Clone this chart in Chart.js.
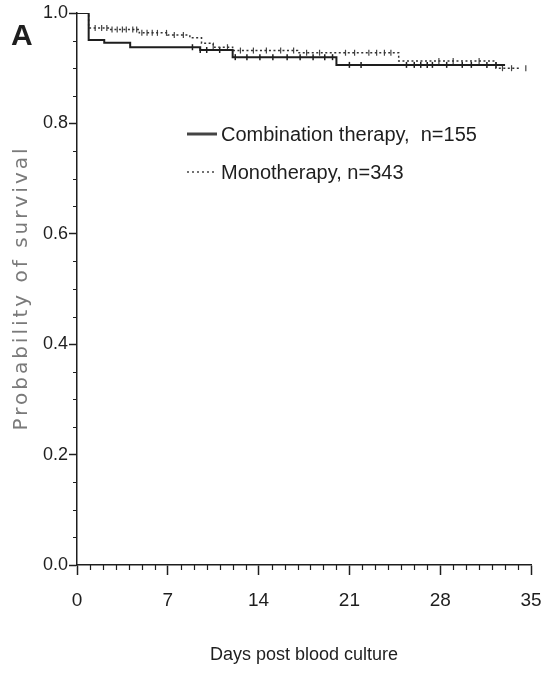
<!DOCTYPE html>
<html lang="en">
<head>
  <meta charset="UTF-8">
  <title>Survival</title>
  <style>
    html, body { margin: 0; padding: 0; background: #fff; }
    #wrap { position: relative; width: 545px; height: 674px; }
  </style>
</head>
<body>
  <div id="wrap">
    <canvas id="myChart" width="545" height="674"></canvas>
  </div>

<script src="https://cdn.jsdelivr.net/npm/chart.js"></script>
<script>
  // Kaplan-Meier steps (days, survival)
  const comboTimes = [0, 0.9, 2.1, 4.1, 9.5, 12, 20, 33];
  const comboSurv = [1.0, 0.951, 0.946, 0.938, 0.933, 0.920, 0.906, 0.906];
  const monoTimes = [0, 0.9, 2.5, 4.8, 7, 8.7, 9.6, 10.5, 12, 17, 24.8, 32.3, 34.2];
  const monoSurv = [1.0, 0.973, 0.970, 0.964, 0.960, 0.955, 0.945, 0.938, 0.932, 0.928, 0.913, 0.900, 0.900];

  // censored observations (days)
  const comboCensor = [8.9, 9.5, 10, 11, 12.2, 13.1, 14.1, 15.1, 16.2, 17.2, 18.2, 19.1, 19.7, 21, 21.9,
    25.4, 26, 26.5, 27, 27.4, 28.5, 29.7, 30.4, 31.6, 32.3];
  const monoCensor = [1.4, 1.9, 2.3, 2.7, 3.1, 3.5, 3.8, 4.3, 4.6, 5.0, 5.4, 5.8, 6.2, 6.9, 7.5, 8.2,
    10.5, 11.6, 12.6, 13.6, 14.6, 15.7, 16.7, 17.7, 18.7, 20.7, 21.4, 22.5, 23.1, 23.7, 24.2,
    27.9, 29, 31, 32.8, 33.5, 34.6];

  const xTicks = [0, 7, 14, 21, 28, 35];
  const yTicks = [0, 0.2, 0.4, 0.6, 0.8, 1.0];
  const legendLabels = ['Combination therapy,  n=155', 'Monotherapy, n=343'];
  const yTitle = 'Probability of survival';

  const FONT = '"Liberation Sans", Arial, sans-serif';
  const INK = '#1e1e1e';

  function survAt(times, surv, t) {
    let s = surv[0];
    for (let i = 0; i < times.length; i++) {
      if (times[i] <= t) s = surv[i];
    }
    return s;
  }
  function toPoints(times, surv) {
    return times.map((t, i) => ({ x: t, y: surv[i] }));
  }
  function censorPoints(list, times, surv) {
    return list.map(t => ({ x: t, y: survAt(times, surv, t) }));
  }

  // minor ticks, legend, y title and panel letter
  const extras = {
    id: 'extras',
    afterDraw(chart) {
      const c = chart.ctx;
      const xs = chart.scales.x;
      const ys = chart.scales.y;
      const area = chart.chartArea;
      c.save();
      c.strokeStyle = INK;
      c.lineWidth = 1.2;
      c.beginPath();
      for (let d = 0; d <= 35; d++) {
        if (d % 7 === 0) continue;
        const px = Math.round(xs.getPixelForValue(d)) + 0.5;
        c.moveTo(px, area.bottom);
        c.lineTo(px, area.bottom + 5);
      }
      for (let k = 0; k <= 20; k++) {
        if (k % 4 === 0) continue;
        const py = Math.round(ys.getPixelForValue(k * 0.05)) + 0.5;
        c.moveTo(area.left - 4, py);
        c.lineTo(area.left, py);
      }
      c.stroke();

      // legend
      c.lineWidth = 3;
      c.strokeStyle = '#444';
      c.beginPath();
      c.moveTo(187, 134);
      c.lineTo(217, 134);
      c.stroke();
      c.lineWidth = 1.5;
      c.setLineDash([2, 3]);
      c.beginPath();
      c.moveTo(187, 172);
      c.lineTo(217, 172);
      c.stroke();
      c.setLineDash([]);
      c.fillStyle = INK;
      c.font = '20px ' + FONT;
      c.textBaseline = 'middle';
      c.fillText(legendLabels[0], 221, 135);
      c.fillText(legendLabels[1], 221, 173);

      // y axis title, spaced out like the scan
      c.save();
      c.translate(22, 288);
      c.rotate(-Math.PI / 2);
      c.font = '20px "DejaVu Sans", sans-serif';
      c.fillStyle = '#7a7a7a';
      c.textAlign = 'center';
      if ('letterSpacing' in c) c.letterSpacing = '3px';
      c.fillText(yTitle, 0, 0);
      c.restore();

      c.font = 'bold 30px ' + FONT;
      c.textBaseline = 'alphabetic';
      c.fillText('A', 11, 45);
      c.restore();
    }
  };

  const ctx = document.getElementById('myChart');
  const myChart = new Chart(ctx, {
    type: 'line',
    data: {
      datasets: [
        {
          label: legendLabels[0],
          data: toPoints(comboTimes, comboSurv),
          stepped: 'before',
          borderColor: INK,
          borderWidth: 2,
          pointRadius: 0
        },
        {
          label: legendLabels[1],
          data: toPoints(monoTimes, monoSurv),
          stepped: 'before',
          borderColor: '#333',
          borderWidth: 1.5,
          borderDash: [2, 2.5],
          pointRadius: 0
        },
        {
          label: 'combo censored',
          data: censorPoints(comboCensor, comboTimes, comboSurv),
          showLine: false,
          pointStyle: 'line',
          rotation: 90,
          pointRadius: 3,
          borderColor: INK,
          borderWidth: 1.5
        },
        {
          label: 'mono censored',
          data: censorPoints(monoCensor, monoTimes, monoSurv),
          showLine: false,
          pointStyle: 'line',
          rotation: 90,
          pointRadius: 3,
          borderColor: '#444',
          borderWidth: 1.2
        }
      ]
    },
    options: {
      responsive: false,
      animation: false,
      layout: { padding: { top: 13, right: 14, left: 0, bottom: 0 } },
      plugins: {
        legend: { display: false },
        tooltip: { enabled: false }
      },
      scales: {
        x: {
          type: 'linear',
          min: 0,
          max: 35,
          afterFit: s => { s.height = 109; s.paddingLeft = 0; s.paddingRight = 0; },
          afterBuildTicks: s => { s.ticks = xTicks.map(v => ({ value: v })); },
          ticks: { color: INK, font: { family: FONT, size: 19 }, padding: 14, maxRotation: 0 },
          grid: { drawOnChartArea: false, tickLength: 10, color: INK, tickWidth: 1.5 },
          border: { color: INK, width: 1.5 },
          title: {
            display: true,
            text: 'Days post blood culture',
            color: INK,
            font: { family: FONT, size: 18 },
            padding: { top: 0, bottom: 8 }
          }
        },
        y: {
          min: 0,
          max: 1,
          afterFit: s => { s.width = 77; s.paddingTop = 0; s.paddingBottom = 0; },
          afterBuildTicks: s => { s.ticks = yTicks.map(v => ({ value: v })); },
          ticks: { color: INK, font: { family: FONT, size: 18 }, padding: 1, callback: v => v.toFixed(1) },
          grid: { drawOnChartArea: false, tickLength: 8, color: INK, tickWidth: 1.5 },
          border: { color: INK, width: 1.5 },
          title: { display: false }
        }
      }
    },
    plugins: [extras]
  });
</script>
</body>
</html>
